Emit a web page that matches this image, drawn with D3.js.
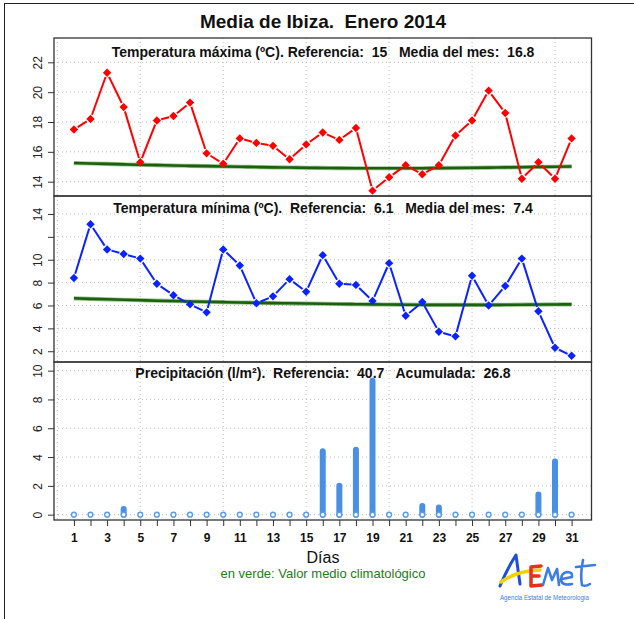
<!DOCTYPE html>
<html>
<head>
<meta charset="utf-8">
<script src="https://cdn.jsdelivr.net/npm/d3@7"></script>
<style>
  body { margin: 0; background: #fff; }
  svg { display: block; font-family: "Liberation Sans", Arial, Helvetica, sans-serif; }
  .keep { white-space: pre; }
</style>
</head>
<body>
<div id="chart"></div>
<script>
const width = 634;
const height = 619;

// datos diarios, enero 2014
const days = d3.range(1, 32);
const tmax = [17.5, 18.2, 21.3, 19.0, 15.3, 18.1, 18.4, 19.3, 15.9, 15.2,
  16.9, 16.6, 16.4, 15.5, 16.5, 17.3, 16.8, 17.6, 13.4, 14.3,
  15.1, 14.5, 15.1, 17.1, 18.1, 20.1, 18.6, 14.2, 15.3, 14.2, 16.9];
const tmaxClim = [15.25, 15.22, 15.19, 15.16, 15.13, 15.11, 15.08, 15.06, 15.04, 15.02,
  15.00, 14.98, 14.96, 14.95, 14.93, 14.92, 14.91, 14.90, 14.90, 14.90,
  14.90, 14.90, 14.91, 14.92, 14.93, 14.94, 14.96, 14.97, 14.99, 15.00, 15.02];
const tmin = [8.4, 13.1, 10.9, 10.5, 10.1, 7.9, 6.9, 6.1, 5.4, 10.9,
  9.5, 6.2, 6.8, 8.3, 7.2, 10.4, 7.9, 7.8, 6.4, 9.7,
  5.1, 6.3, 3.7, 3.3, 8.6, 6.0, 7.7, 10.1, 5.5, 2.3, 1.6];
const tminClim = [6.63, 6.58, 6.54, 6.50, 6.46, 6.42, 6.39, 6.35, 6.32, 6.29,
  6.26, 6.24, 6.21, 6.19, 6.17, 6.15, 6.13, 6.11, 6.10, 6.08,
  6.07, 6.06, 6.05, 6.05, 6.05, 6.05, 6.06, 6.07, 6.08, 6.09, 6.10];
const precip = [0, 0, 0, 0.4, 0, 0, 0, 0, 0, 0,
  0, 0, 0, 0, 0, 4.4, 2.0, 4.5, 9.3, 0,
  0, 0.6, 0.5, 0, 0, 0, 0, 0, 1.4, 3.7, 0];

const tmaxTicks = [14, 16, 18, 20, 22];
const tminTicks = [2, 4, 6, 8, 10, 12, 14];
const tminLabels = [2, 4, 6, 8, 10, 14];
const precipTicks = [0, 2, 4, 6, 8, 10];
const xGrid = [0, 5, 10, 15, 20, 25, 30];

const mainTitle = "Media de Ibiza.  Enero 2014";
const titles = [
  "Temperatura máxima (ºC). Referencia:  15   Media del mes:  16.8",
  "Temperatura mínima (ºC).  Referencia:  6.1   Media del mes:  7.4",
  "Precipitación (l/m²).  Referencia:  40.7   Acumulada:  26.8"
];

const svg = d3.select("#chart")
  .append("svg")
  .attr("width", width)
  .attr("height", height);

// marco exterior (solo arriba e izquierda)
svg.append("line").attr("x1", 4).attr("x2", width).attr("y1", 3.5).attr("y2", 3.5)
  .attr("stroke", "#222").attr("stroke-width", 1);
svg.append("line").attr("x1", 4.5).attr("x2", 4.5).attr("y1", 3).attr("y2", height)
  .attr("stroke", "#222").attr("stroke-width", 1);

const x = d3.scaleLinear().domain([-0.2, 32.2]).range([54, 591.5]);

const panels = [
  { top: 38, bottom: 196, domain: [13.04, 23.63], ticks: tmaxTicks, labels: tmaxTicks, title: titles[0], ty: 56.5 },
  { top: 196, bottom: 362, domain: [1.06, 15.57], ticks: tminTicks, labels: tminLabels, title: titles[1], ty: 213 },
  { top: 362, bottom: 520, domain: [-0.37, 10.6], ticks: precipTicks, labels: precipTicks, title: titles[2], ty: 378 }
];

panels.forEach(p => {
  p.y = d3.scaleLinear().domain(p.domain).range([p.bottom, p.top]);
  const g = svg.append("g");

  // rejilla punteada
  g.selectAll(".hgrid").data(p.ticks).enter().append("line")
    .attr("x1", x.range()[0]).attr("x2", x.range()[1])
    .attr("y1", d => p.y(d)).attr("y2", d => p.y(d))
    .attr("stroke", "#bdbdbd").attr("stroke-dasharray", "1,3");
  g.selectAll(".vgrid").data(xGrid).enter().append("line")
    .attr("x1", d => x(d)).attr("x2", d => x(d))
    .attr("y1", p.top).attr("y2", p.bottom)
    .attr("stroke", "#bdbdbd").attr("stroke-dasharray", "1,3");

  // eje y
  const ax = g.append("g")
    .attr("transform", `translate(${x.range()[0]},0)`)
    .call(d3.axisLeft(p.y).tickValues(p.ticks).tickSize(6)
      .tickFormat(d => p.labels.includes(d) ? d : ""));
  ax.select(".domain").remove();
  ax.selectAll(".tick line").attr("stroke", "#333");
  ax.selectAll(".tick text")
    .attr("transform", "rotate(-90)")
    .attr("x", 0).attr("y", -12).attr("dy", 0)
    .style("text-anchor", "middle")
    .style("font-size", "12px")
    .style("font-family", "Liberation Sans, Arial, sans-serif")
    .attr("fill", "#222");

  p.g = g;
});

// líneas con hueco junto a los puntos (tipo "b")
function gappedLine(g, values, y, color) {
  const pts = values.map((v, i) => [x(days[i]), y(v)]);
  const gap = 4.5;
  const segs = d3.pairs(pts).map(([a, b]) => {
    const dx = b[0] - a[0], dy = b[1] - a[1];
    const len = Math.hypot(dx, dy);
    const ux = dx / len, uy = dy / len;
    return [a[0] + ux * gap, a[1] + uy * gap, b[0] - ux * gap, b[1] - uy * gap, len];
  }).filter(s => s[4] > 2 * gap);
  g.selectAll(null).data(segs).enter().append("line")
    .attr("x1", d => d[0]).attr("y1", d => d[1])
    .attr("x2", d => d[2]).attr("y2", d => d[3])
    .attr("stroke", color).attr("stroke-width", 2);
  g.selectAll(null).data(pts).enter().append("path")
    .attr("transform", d => `translate(${d[0]},${d[1]})`)
    .attr("d", "M0,-4.2L4.2,0L0,4.2L-4.2,0Z")
    .attr("fill", color);
}

function climLine(g, values, y) {
  const line = d3.line().x((d, i) => x(days[i])).y(d => y(d)).curve(d3.curveMonotoneX);
  g.append("path").datum(values).attr("d", line)
    .attr("fill", "none").attr("stroke", "#6fa860").attr("stroke-width", 4.2).attr("opacity", 0.7);
  g.append("path").datum(values).attr("d", line)
    .attr("fill", "none").attr("stroke", "#1b600c").attr("stroke-width", 2.6);
}

climLine(panels[0].g, tmaxClim, panels[0].y);
gappedLine(panels[0].g, tmax, panels[0].y, "#ff0000");
climLine(panels[1].g, tminClim, panels[1].y);
gappedLine(panels[1].g, tmin, panels[1].y, "#0a22ff");

// precipitación: barras tipo "h" con extremos redondeados
const py = panels[2].y;
panels[2].g.selectAll(".bar").data(precip.map((v, i) => [days[i], v]).filter(d => d[1] > 0))
  .enter().append("line")
  .attr("x1", d => x(d[0])).attr("x2", d => x(d[0]))
  .attr("y1", py(0))
  .attr("y2", d => py(d[1]))
  .attr("stroke", "#4a8fe4").attr("stroke-width", 6)
  .attr("stroke-linecap", "round");
panels[2].g.selectAll(".zero").data(days).enter().append("circle")
  .attr("cx", d => x(d)).attr("cy", py(0)).attr("r", 2.4)
  .attr("fill", "#fff").attr("stroke", "#5a9ce8").attr("stroke-width", 1.4);

// marcos de los paneles
panels.forEach(p => {
  svg.append("rect")
    .attr("x", x.range()[0]).attr("y", p.top)
    .attr("width", x.range()[1] - x.range()[0]).attr("height", p.bottom - p.top)
    .attr("fill", "none").attr("stroke", "#333").attr("stroke-width", 1.3);
  svg.append("text")
    .attr("class", "keep")
    .attr("x", 323).attr("y", p.ty)
    .attr("text-anchor", "middle")
    .style("font-size", "14px").style("font-weight", "bold")
    .attr("fill", "#111")
    .text(p.title);
});

// eje x
const xa = svg.append("g")
  .attr("transform", `translate(0,${panels[2].bottom})`)
  .call(d3.axisBottom(x).tickValues(days).tickSize(6).tickPadding(7)
    .tickFormat(d => d % 2 === 1 ? d : ""));
xa.select(".domain").remove();
xa.selectAll(".tick line").attr("stroke", "#333");
xa.selectAll(".tick text")
  .style("font-size", "12px").style("font-weight", "bold")
  .style("font-family", "Liberation Sans, Arial, sans-serif")
  .attr("fill", "#111");

svg.append("text")
  .attr("class", "keep")
  .attr("x", 323).attr("y", 28)
  .attr("text-anchor", "middle")
  .style("font-size", "19px").style("font-weight", "bold")
  .attr("fill", "#111")
  .text(mainTitle);

svg.append("text")
  .attr("x", 323).attr("y", 562.5)
  .attr("text-anchor", "middle")
  .style("font-size", "16px")
  .attr("fill", "#111")
  .text("Días");

svg.append("text")
  .attr("x", 323).attr("y", 577.5)
  .attr("text-anchor", "middle")
  .style("font-size", "13px")
  .attr("fill", "#267a18")
  .text("en verde: Valor medio climatológico");

// logotipo AEMet
const logo = svg.append("g").attr("fill", "none")
  .attr("stroke-linecap", "round").attr("stroke-linejoin", "round");
logo.append("path").attr("d", "M500,586 Q507,569 516,555 Q518,570 520,584")
  .attr("stroke", "#1d4fd6").attr("stroke-width", 3);
logo.append("path").attr("d", "M501,582 Q516,571 540,570")
  .attr("stroke", "#f4d200").attr("stroke-width", 3.5);
logo.append("path").attr("d", "M541,566 L531,567 L531,586 L542,585 M531,576 L539,576")
  .attr("stroke", "#e0321e").attr("stroke-width", 3.5);
logo.append("path")
  .attr("d", "M543,585 L548,568 L552,580 L557,569 L559,585 M562,579 L572,577 Q573,572 567,572 Q561,573 561,580 Q562,586 572,584 M583,560 Q580,575 582,585 Q585,587 590,584 M576,567 L595,565")
  .attr("stroke", "#3b7de2").attr("stroke-width", 2.6);
svg.append("text")
  .attr("x", 500).attr("y", 600)
  .attr("textLength", 89).attr("lengthAdjust", "spacingAndGlyphs")
  .style("font-size", "7.5px")
  .attr("fill", "#3b7de2")
  .text("Agencia Estatal de Meteorología");
</script>
</body>
</html>
